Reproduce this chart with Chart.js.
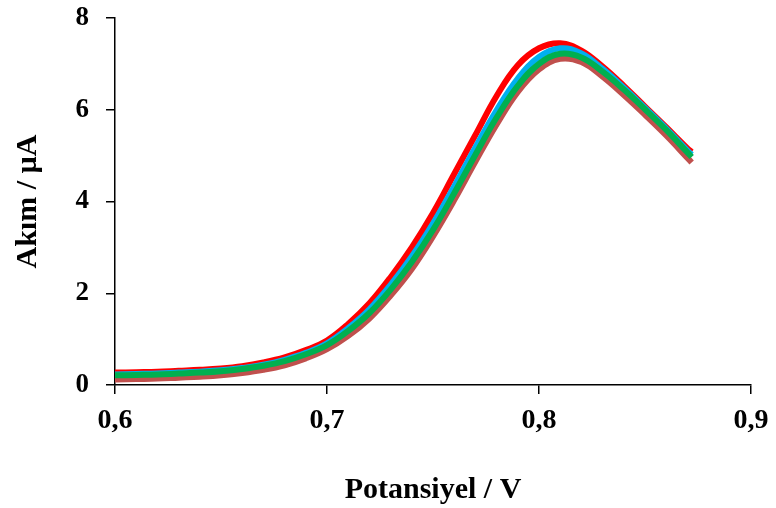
<!DOCTYPE html>
<html>
<head>
<meta charset="utf-8">
<script src="https://cdn.jsdelivr.net/npm/chart.js@4.4.1/dist/chart.umd.min.js"></script>
<style>
    body { margin: 0; background: #fff; }
    #wrap { width: 776px; height: 508px; }
</style>
</head>
<body>
<div id="wrap"><canvas id="voltChart"></canvas></div>
<script>
// 数据 (Potansiyel / V, Akım / µA)
const potentials = [0.60, 0.61, 0.62, 0.63, 0.64, 0.65, 0.66, 0.67, 0.68, 0.69, 0.70, 0.71, 0.72, 0.73, 0.74,
    0.75, 0.76, 0.77, 0.78, 0.79, 0.80, 0.81, 0.82, 0.83, 0.84, 0.85, 0.86, 0.87, 0.872];

const redCurrent = [0.27, 0.28, 0.29, 0.31, 0.33, 0.36, 0.41, 0.49, 0.60, 0.76, 0.97, 1.33, 1.78, 2.35, 3.00,
    3.75, 4.60, 5.45, 6.30, 6.97, 7.34, 7.45, 7.29, 6.94, 6.52, 6.07, 5.62, 5.16, 5.08];
const blueCurrent = [0.23, 0.24, 0.25, 0.27, 0.29, 0.32, 0.37, 0.44, 0.55, 0.70, 0.91, 1.24, 1.65, 2.18, 2.80,
    3.52, 4.33, 5.18, 5.99, 6.68, 7.15, 7.34, 7.23, 6.89, 6.48, 6.04, 5.59, 5.11, 5.02];
const greenCurrent = [0.21, 0.22, 0.23, 0.25, 0.27, 0.30, 0.35, 0.42, 0.52, 0.67, 0.87, 1.18, 1.57, 2.08, 2.68,
    3.38, 4.18, 5.02, 5.83, 6.52, 7.00, 7.22, 7.14, 6.83, 6.44, 6.01, 5.56, 5.07, 4.97];
const brownCurrent = [0.12, 0.13, 0.14, 0.16, 0.18, 0.21, 0.26, 0.33, 0.43, 0.58, 0.78, 1.07, 1.45, 1.95, 2.53,
    3.24, 4.03, 4.87, 5.68, 6.39, 6.88, 7.11, 7.04, 6.72, 6.32, 5.89, 5.44, 4.95, 4.85];

const xTicks = [0.6, 0.7, 0.8, 0.9];
const xTickLabels = ['0,6', '0,7', '0,8', '0,9'];
const yTicks = [0, 2, 4, 6, 8];
const yTickLabels = ['0', '2', '4', '6', '8'];

const serif = '"Liberation Serif", "Times New Roman", serif';

function toPoints(values) {
    return potentials.map((x, i) => ({ x: x, y: values[i] }));
}

function makeLine(values, color) {
    return {
        data: toPoints(values),
        borderColor: color,
        backgroundColor: color,
        borderWidth: 6,
        pointRadius: 0,
        fill: false,
        tension: 0.4
    };
}

const axisGrid = {
    drawOnChartArea: false,
    drawTicks: true,
    tickLength: 9,
    tickWidth: 1.5,
    tickColor: '#000',
    color: '#000',
    lineWidth: 1.5
};

const ctx = document.getElementById('voltChart').getContext('2d');
new Chart(ctx, {
    type: 'line',
    data: {
        // 第一个数据集画在最上层
        datasets: [
            makeLine(greenCurrent, '#00B050'),
            makeLine(blueCurrent, '#00B0F0'),
            makeLine(redCurrent, '#FF0000'),
            makeLine(brownCurrent, '#C0504D')
        ]
    },
    options: {
        responsive: true,
        maintainAspectRatio: false,
        animation: false,
        layout: { padding: 0 },
        plugins: {
            legend: { display: false },
            tooltip: { enabled: false }
        },
        scales: {
            x: {
                type: 'linear',
                min: 0.6,
                max: 0.9,
                afterBuildTicks: function(scale) {
                    scale.ticks = xTicks.map(v => ({ value: v }));
                },
                afterFit: function(scale) {
                    scale.height = 123;
                    scale.paddingLeft = 0;
                    scale.paddingRight = 25;
                },
                grid: axisGrid,
                border: { display: true, color: '#000', width: 1.5 },
                ticks: {
                    color: '#000',
                    padding: 10,
                    maxRotation: 0,
                    font: { family: serif, size: 28, weight: 'bold' },
                    callback: function(value) {
                        const i = xTicks.findIndex(t => Math.abs(t - value) < 1e-6);
                        return i >= 0 ? xTickLabels[i] : '';
                    }
                },
                title: {
                    display: true,
                    text: 'Potansiyel / V',
                    color: '#000',
                    padding: { top: 0, bottom: 0 },
                    font: { family: serif, size: 30, weight: 'bold', lineHeight: 1.2 }
                }
            },
            y: {
                min: 0,
                max: 8,
                afterBuildTicks: function(scale) {
                    scale.ticks = yTicks.map(v => ({ value: v }));
                },
                afterFit: function(scale) {
                    scale.width = 115;
                    scale.paddingTop = 18;
                    scale.paddingBottom = 0;
                },
                grid: axisGrid,
                border: { display: true, color: '#000', width: 1.5 },
                ticks: {
                    color: '#000',
                    padding: 17,
                    font: { family: serif, size: 27, weight: 'bold' },
                    callback: function(value) {
                        const i = yTicks.indexOf(value);
                        return i >= 0 ? yTickLabels[i] : '';
                    }
                },
                title: {
                    display: true,
                    text: 'Akım / µA',
                    color: '#000',
                    padding: { top: 10, bottom: 0 },
                    font: { family: serif, size: 30, weight: 'bold', lineHeight: 1.2 }
                }
            }
        }
    }
});
</script>
</body>
</html>
